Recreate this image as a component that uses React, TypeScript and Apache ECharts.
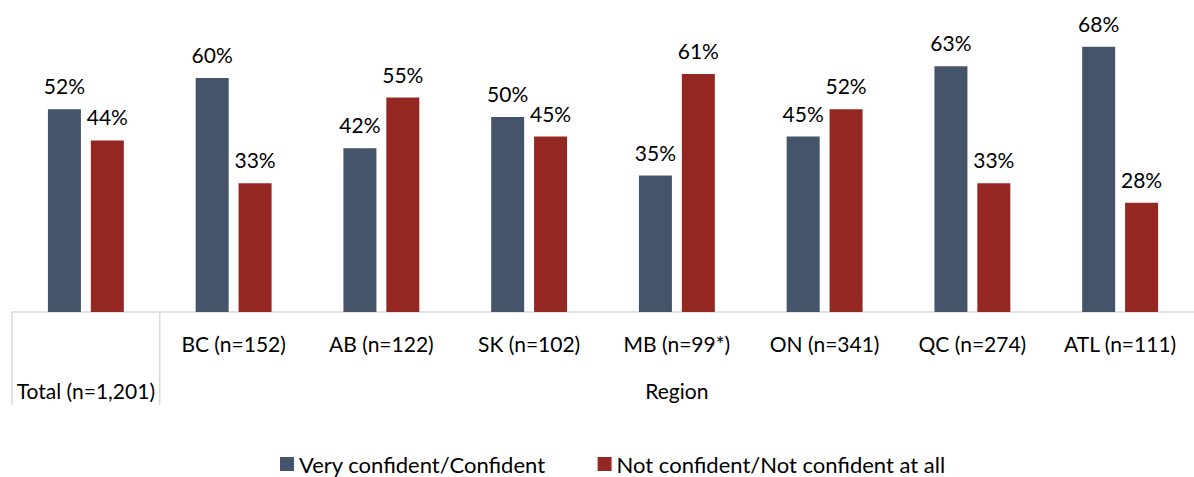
import React, { useEffect, useRef } from "react";
import * as echarts from "echarts";

const categories = [
  "Total (n=1,201)",
  "BC (n=152)",
  "AB (n=122)",
  "SK (n=102)",
  "MB (n=99*)",
  "ON (n=341)",
  "QC (n=274)",
  "ATL (n=111)",
];
const seriesNames = ["Very confident/Confident", "Not confident/Not confident at all"];
const confident = [52, 60, 42, 50, 35, 45, 63, 68];
const notConfident = [44, 33, 55, 45, 61, 52, 33, 28];
const groupLabel = "Region";

const FONT = "Lato";
const FS = 21;
const W = 1194;
const GRID_LEFT = 12;
const AXIS_Y = 312;

export default function App() {
  const ref = useRef<HTMLDivElement>(null);
  useEffect(() => {
    if (!ref.current) return;
    const chart = echarts.init(ref.current, null, { renderer: "svg" });
    const band = (W - GRID_LEFT) / categories.length;
    const lineStyle = { stroke: "#D9D9D9", lineWidth: 1.5 };
    const labelStyle = {
      show: true,
      position: "top" as const,
      distance: 13,
      formatter: "{c}%",
      fontSize: FS,
      fontFamily: FONT,
      color: "#000",
    };
    chart.setOption({
      animation: false,
      textStyle: { fontFamily: FONT },
      grid: { left: GRID_LEFT, right: 0, top: 0, height: AXIS_Y, containLabel: false },
      legend: {
        bottom: 0,
        left: 275,
        padding: [5, 5, 2, 5],
        itemWidth: 14,
        itemHeight: 14,
        itemGap: 52,
        icon: "rect",
        textStyle: { fontSize: 22, fontFamily: FONT, color: "#000" },
        data: seriesNames,
      },
      xAxis: {
        type: "category",
        data: categories,
        axisLine: { show: true, lineStyle: { color: "#D9D9D9", width: 1.5 } },
        axisTick: { show: false },
        axisLabel: {
          interval: 0,
          margin: 21,
          fontSize: FS,
          fontFamily: FONT,
          color: "#000",
          formatter: (v: string, i: number) => (i === 0 ? "{low|" + v + "}" : v),
          rich: {
            low: { fontSize: FS, fontFamily: FONT, color: "#000", padding: [47, 0, 0, 0] },
          },
        },
      },
      yAxis: {
        type: "value",
        min: 0,
        max: 80,
        show: false,
        splitLine: { show: false },
      },
      graphic: [
        {
          type: "line",
          shape: { x1: GRID_LEFT, y1: AXIS_Y, x2: GRID_LEFT, y2: AXIS_Y + 93 },
          style: lineStyle,
        },
        {
          type: "line",
          shape: { x1: GRID_LEFT + band, y1: AXIS_Y, x2: GRID_LEFT + band, y2: AXIS_Y + 93 },
          style: lineStyle,
        },
        {
          type: "text",
          x: (GRID_LEFT + band + W) / 2,
          y: 390,
          style: {
            text: groupLabel,
            fontSize: FS,
            fontFamily: FONT,
            fill: "#000",
            align: "center",
            verticalAlign: "middle",
          },
        },
      ],
      series: [
        {
          name: seriesNames[0],
          type: "bar",
          data: confident,
          barWidth: 33,
          barGap: "30%",
          itemStyle: { color: "#44546A" },
          label: labelStyle,
        },
        {
          name: seriesNames[1],
          type: "bar",
          data: notConfident,
          barWidth: 33,
          itemStyle: { color: "#952722" },
          label: labelStyle,
        },
      ],
    });
    return () => chart.dispose();
  }, []);
  return (
    <div
      ref={ref}
      style={{ position: "fixed", left: 0, top: 0, width: W, height: 477, background: "#fff" }}
    />
  );
}
